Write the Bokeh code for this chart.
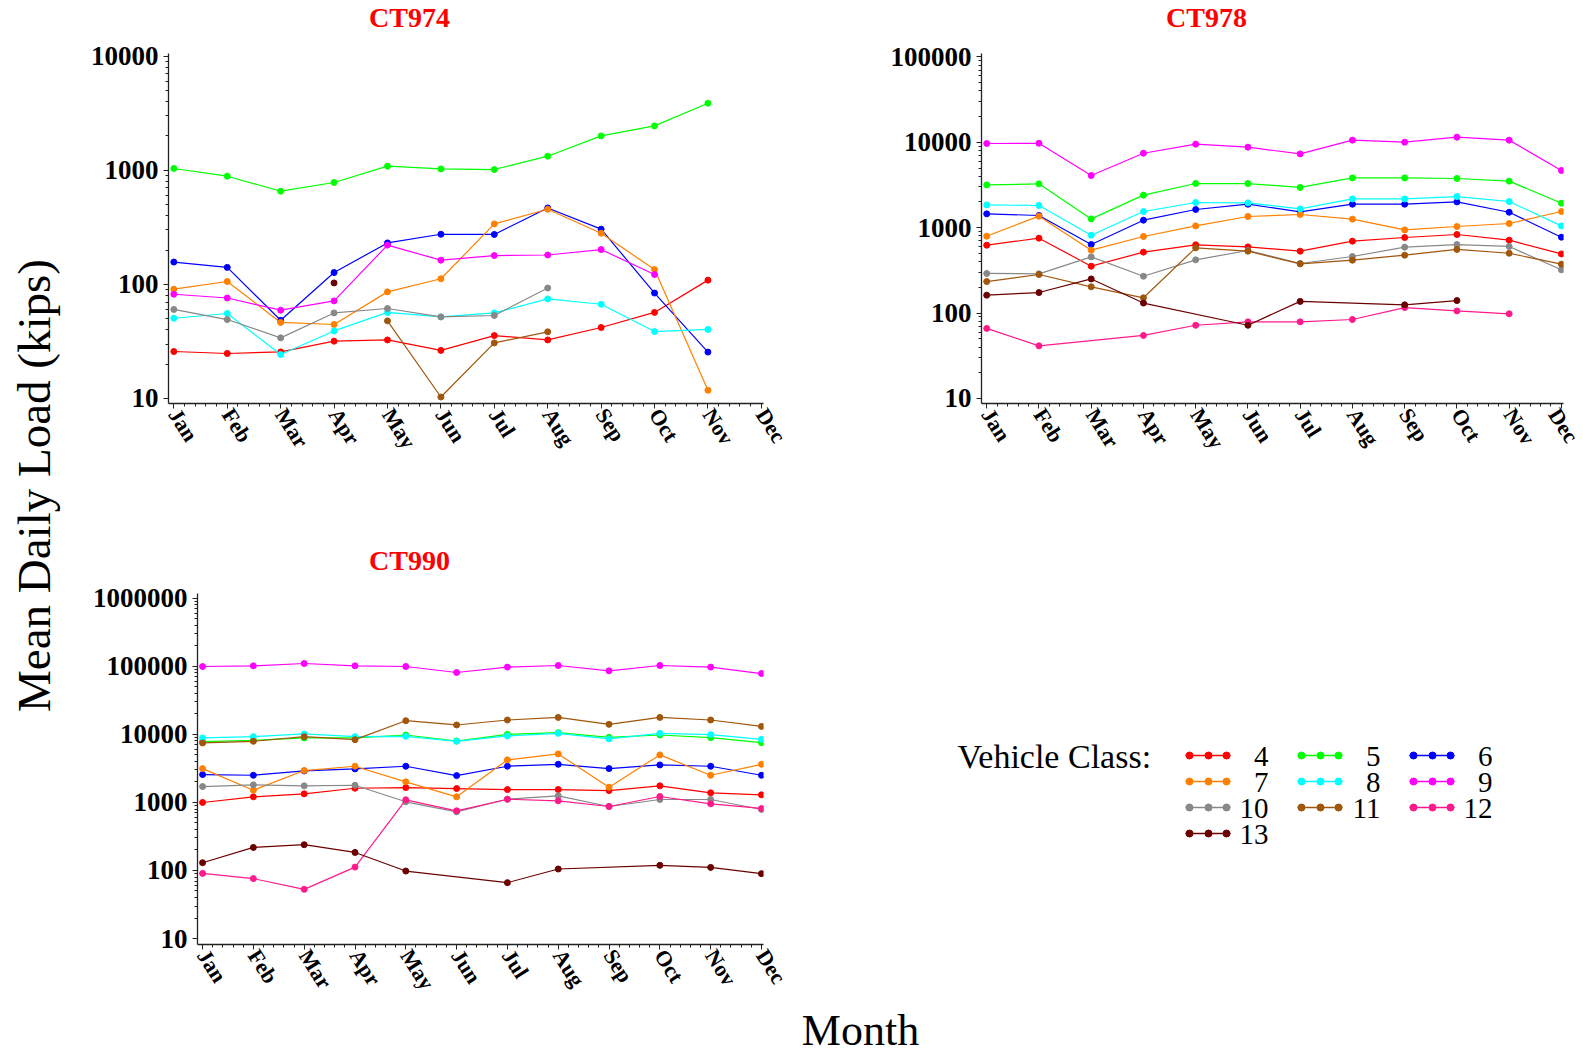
import math
from bokeh.plotting import figure
from bokeh.layouts import row, column
from bokeh.models import Range1d, FixedTicker, BasicTickFormatter
from bokeh.embed import file_html
from bokeh.resources import INLINE
from bokeh.core.properties import value

# ---------------- data ----------------
MONTHS = ["Jan", "Feb", "Mar", "Apr", "May", "Jun", "Jul", "Aug", "Sep", "Oct", "Nov", "Dec"]
MONTH_NUM = list(range(1, 13))
CLASSES = ["4", "5", "6", "7", "8", "9", "10", "11", "12", "13"]
COLORS = ["#ff0000", "#00ff00", "#0000ff", "#ff8000", "#00ffff", "#ff00ff",
          "#888888", "#a0560b", "#ff1a8c", "#6b0000"]
TITLES = ["CT974", "CT978", "CT990"]

N = None
# CT974
ct974_c4 = [25.8, 24.8, 25.6, 31.8, 32.6, 26.4, 35.6, 32.6, 41.9, 56.8, 109, N]
ct974_c5 = [1038, 888, 656, 782, 1087, 1028, 1016, 1330, 2004, 2450, 3873, N]
ct974_c6 = [157, 141, 48.5, 127, 231, 275, 274, 468, 305, 84, 25.5, N]
ct974_c7 = [90.8, 106, 46.4, 44.5, 86, 112, 339, 456, 281, 135, 11.8, N]
ct974_c8 = [50.5, 55.6, 24.3, 39.1, 56.8, 51.9, 56.2, 74.6, 67, 38.6, 40.3, N]
ct974_c9 = [82, 76, 59.4, 71.7, 221, 163, 179, 181, 202, 122, N, N]
ct974_c10 = [60.3, 49.2, 34, 56.2, 61.5, 51.9, 53.4, 93, N, N, N, N]
ct974_c11 = [N, N, N, N, 47.9, 10.3, 30.7, 38.4, N, N, N, N]
ct974_c12 = [N, N, N, N, N, N, N, N, N, N, N, N]
ct974_c13 = [N, N, N, 103, N, N, N, N, N, N, N, N]
# CT978
ct978_c4 = [624, 754, 354, 517, 630, 596, 531, 695, 767, 832, 714, 493]
ct978_c5 = [3170, 3260, 1268, 2404, 3290, 3290, 2960, 3830, 3830, 3770, 3510, 1936]
ct978_c6 = [1452, 1390, 635, 1224, 1633, 1884, 1530, 1884, 1884, 2004, 1517, 774]
ct978_c7 = [795, 1364, 545, 789, 1050, 1353, 1428, 1259, 942, 1032, 1120, 1548]
ct978_c8 = [1850, 1820, 817, 1548, 1972, 1953, 1660, 2173, 2173, 2316, 2026, 1050]
ct978_c9 = [9680, 9750, 4080, 7450, 9510, 8770, 7310, 10600, 10030, 11480, 10600, 4680]
ct978_c10 = [291, 288, 455, 270, 420, 541, 381, 460, 591, 635, 603, 321]
ct978_c11 = [234, 283, 203, 151, 581, 531, 377, 416, 476, 556, 502, 374]
ct978_c12 = [66.1, 41.3, N, 54.7, 72, 78.9, 78.9, 84.1, 116, 106, 98, N]
ct978_c13 = [162, 174, 251, 131, N, 72, 137, N, 125, 140, N, N]
# CT990
ct990_c4 = [998, 1208, 1337, 1616, 1652, 1598, 1545, 1545, 1494, 1750, 1383, 1292]
ct990_c5 = [7820, 8170, 8850, 8850, 9790, 7990, 10000, 10590, 9040, 9790, 8960, 7550]
ct990_c6 = [2565, 2505, 2900, 3110, 3400, 2477, 3400, 3630, 3140, 3555, 3400, 2505]
ct990_c7 = [3140, 1510, 2940, 3400, 2005, 1208, 4220, 5160, 1672, 4990, 2505, 3630]
ct990_c8 = [8850, 9250, 10140, 9250, 9350, 7910, 9480, 10350, 8570, 10350, 9910, 8450]
ct990_c9 = [99300, 101600, 109900, 101600, 99300, 81100, 97300, 102800, 85900, 102800, 97300, 78300]
ct990_c10 = [1710, 1811, 1750, 1787, 1021, 728, 1114, 1249, 871, 1104, 1104, 787]
ct990_c11 = [7480, 7910, 9250, 8360, 15870, 13740, 16250, 17750, 14030, 17750, 16250, 13090]
ct990_c12 = [90.6, 75.9, 52.8, 112, 1092, 753, 1114, 1054, 871, 1222, 954, 815]
ct990_c13 = [130, 218, 239, 184, 98, N, 66.2, 105, N, 119, 111, 89.8]

CT974 = [ct974_c4, ct974_c5, ct974_c6, ct974_c7, ct974_c8, ct974_c9, ct974_c10, ct974_c11, ct974_c12, ct974_c13]
CT978 = [ct978_c4, ct978_c5, ct978_c6, ct978_c7, ct978_c8, ct978_c9, ct978_c10, ct978_c11, ct978_c12, ct978_c13]
CT990 = [ct990_c4, ct990_c5, ct990_c6, ct990_c7, ct990_c8, ct990_c9, ct990_c10, ct990_c11, ct990_c12, ct990_c13]

SERIF = "Liberation Serif"
X0, X1 = 0.9, 12.04


def blank(width, height, xr, yr, **kw):
    f = figure(width=width, height=height, x_range=Range1d(*xr), y_range=Range1d(*yr),
               toolbar_location=None, output_backend="svg", min_border=0,
               x_axis_location=None, y_axis_location=None, outline_line_color=None, **kw)
    f.grid.visible = False
    return f


def panel(series, width, height, bl, br, bt, bb, ylog_lo, ylog_hi, top_dec):
    p = figure(width=width, height=height, y_axis_type="log",
               x_range=Range1d(X0, X1), y_range=Range1d(10 ** ylog_lo, 10 ** ylog_hi),
               toolbar_location=None, output_backend="svg",
               min_border_left=bl, min_border_right=br, min_border_top=bt, min_border_bottom=bb,
               outline_line_color=None)
    p.grid.visible = False

    xa = p.xaxis[0]
    xa.ticker = FixedTicker(ticks=MONTH_NUM,
                            minor_ticks=[m + k / 5 for m in MONTH_NUM[:-1] for k in range(1, 5)])
    xa.major_label_overrides = {m: MONTHS[m - 1] for m in MONTH_NUM}
    xa.major_label_orientation = -1.0
    xa.major_label_text_font = SERIF
    xa.major_label_text_font_style = "bold"
    xa.major_label_text_font_size = "22px"
    xa.major_label_standoff = 2

    ya = p.yaxis[0]
    ya.ticker = FixedTicker(ticks=[10 ** d for d in range(1, top_dec + 1)],
                            minor_ticks=[k * 10 ** d for d in range(1, top_dec) for k in range(2, 10)])
    ya.formatter = BasicTickFormatter(use_scientific=False)
    ya.major_label_text_font = SERIF
    ya.major_label_text_font_style = "bold"
    ya.major_label_text_font_size = "27px"
    ya.major_label_standoff = 5

    for ax in (xa, ya):
        ax.axis_line_color = "#222222"
        ax.axis_line_width = 1.3
        ax.major_tick_line_color = "#222222"
        ax.minor_tick_line_color = "#222222"
        ax.major_tick_in = 0
        ax.major_tick_out = 5
        ax.minor_tick_in = 0
        ax.minor_tick_out = 3
        ax.major_label_text_color = "#000000"

    for vals, col in zip(series, COLORS):
        xs = [m for m, v in zip(MONTH_NUM, vals) if v is not None]
        ys = [v for v in vals if v is not None]
        if not xs:
            continue
        if len(xs) > 1:
            p.line(xs, ys, line_color=col, line_width=1.2)
        p.scatter(xs, ys, size=6, fill_color=col, line_color=col)
    return p


def title_strip(height, y_top, texts_xy):
    t = blank(1513, height, (70, 1583), (y_top + height, y_top))
    for txt, (tx, ty) in texts_xy:
        t.text(x=[tx], y=[ty], text=[txt], text_align="center", text_baseline="middle",
               text_color="#ff0000", text_font=value(SERIF), text_font_size="28px",
               text_font_style="bold")
    return t


# vertical layout (page pixels)
T1 = 37            # first title strip 0..37
R1 = 503           # first plot row 37..540
T2 = 42            # second title strip 540..582
R2 = 422           # second plot row 582..1004
XL = 1056 - (T1 + R1 + T2 + R2)   # x-label strip 1004..1056

top1 = title_strip(T1, 0, [(TITLES[0], (409, 17)), (TITLES[1], (1206, 17))])
p1 = panel(CT974, 730, R1, 98, 37, 16, R1 - 16 - 350, 0.956, 4.024, 4)
p2 = panel(CT978, 783, R1, 181, 20, 16, R1 - 16 - 350, 0.941, 5.04, 5)
top2 = title_strip(T2, T1 + R1, [(TITLES[2], (409, 560))])
p3 = panel(CT990, 730, R2, 127, 37, 11, R2 - 11 - 351, 0.912, 6.07, 6)

# y label
ylab = blank(70, 1056, (0, 70), (1056, 0))
ylab.text(x=[33], y=[485], text=["Mean Daily Load (kips)"], angle=math.pi / 2,
          text_align="center", text_baseline="middle",
          text_font=value(SERIF), text_font_size="47px", text_color="#000000")

# legend area (frame aligned with the CT990 frame: page y 593..944)
leg = blank(783, R2, (800, 1583), (944, 593),
            min_border_top=11, min_border_bottom=R2 - 11 - 351)
leg.text(x=[957], y=[756], text=["Vehicle Class:"], text_align="left", text_baseline="middle",
         text_font=value(SERIF), text_font_size="34px", text_color="#000000")
for i, (cls, col) in enumerate(zip(CLASSES, COLORS)):
    c, r = i % 3, i // 3
    x0 = 1185 + c * 112
    yy = 755 + r * 26
    leg.line([x0, x0 + 45], [yy, yy], line_color=col, line_width=1.5)
    leg.scatter([x0 + 4, x0 + 23, x0 + 41], [yy, yy, yy], size=7, fill_color=col, line_color=col)
    leg.text(x=[x0 + 83], y=[yy + 1], text=[cls], text_align="right", text_baseline="middle",
             text_font=value(SERIF), text_font_size="29px", text_color="#000000")

# x label
xtop = 1056 - XL
xlab = blank(1513, XL, (70, 1583), (1056, xtop))
xlab.text(x=[860], y=[1030], text=["Month"], text_align="center", text_baseline="middle",
          text_font=value(SERIF), text_font_size="44px", text_color="#000000")

layout = row(ylab, column(top1, row(p1, p2), top2, row(p3, leg), xlab))

open("out.html", "w").write(file_html(layout, INLINE))
